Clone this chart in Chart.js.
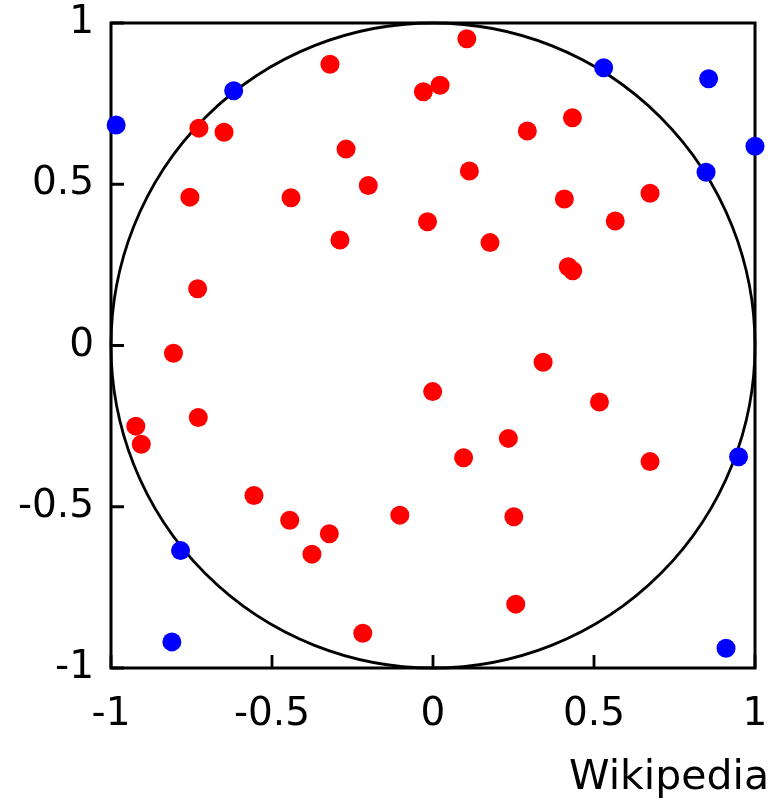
<!DOCTYPE html>
<html>
<head>
<meta charset="utf-8">
<script src="https://cdn.jsdelivr.net/npm/chart.js@4/dist/chart.umd.min.js"></script>
<style>
  html, body { margin: 0; padding: 0; background: #fff; }
  #wrap { width: 776px; height: 802px; }
</style>
</head>
<body>
<div id="wrap"><canvas id="c" width="776" height="802"></canvas></div>
<script>
// Monte Carlo estimate of pi: random points in the square [-1,1]^2,
// red when inside the unit circle, blue when outside.
const insideX = [-0.320, -0.030, 0.022, -0.727, -0.649, -0.270, -0.201, -0.755, -0.441, -0.017,
                 -0.289, -0.731, -0.806, 0.105, 0.433, 0.293, 0.113, 0.674, 0.408, 0.566,
                 0.177, 0.420, 0.434, 0.342, -0.001, -0.923, -0.906, -0.729, -0.556, -0.445,
                 -0.322, -0.376, -0.103, -0.218, 0.517, 0.234, 0.095, 0.674, 0.251, 0.257];
const insideY = [0.872, 0.787, 0.807, 0.674, 0.661, 0.609, 0.496, 0.460, 0.458, 0.384,
                 0.327, 0.176, -0.024, 0.951, 0.706, 0.665, 0.541, 0.472, 0.454, 0.386,
                 0.319, 0.244, 0.232, -0.052, -0.143, -0.250, -0.306, -0.223, -0.465, -0.542,
                 -0.584, -0.647, -0.526, -0.892, -0.175, -0.288, -0.348, -0.360, -0.531, -0.802];
const outsideX = [-0.984, -0.619, 0.530, 0.856, 1.000, 0.848, 0.949, 0.910, -0.784, -0.811];
const outsideY = [0.684, 0.790, 0.861, 0.827, 0.618, 0.537, -0.345, -0.939, -0.636, -0.919];

const tickValues = [-1, -0.5, 0, 0.5, 1];
const tickLabels = ['-1', '-0.5', '0', '0.5', '1'];
const circleRadius = 1;
const creditText = 'Wikipedia';

const toPoints = (xs, ys) => xs.map((x, i) => ({ x: x, y: ys[i] }));

const FONT = '"DejaVu Sans", sans-serif';

// Square frame, unit circle and inward tick marks, drawn under the points.
const framePlugin = {
  id: 'frame',
  beforeDatasetsDraw(chart) {
    const { ctx, chartArea: a, scales: { x, y } } = chart;
    ctx.save();
    ctx.strokeStyle = '#000';
    ctx.lineWidth = 2.8;
    // circle of radius 1 around the origin
    const cx = x.getPixelForValue(0), cy = y.getPixelForValue(0);
    const rx = x.getPixelForValue(circleRadius) - cx;
    const ry = cy - y.getPixelForValue(circleRadius);
    ctx.beginPath();
    ctx.ellipse(cx, cy, rx, ry, 0, 0, Math.PI * 2);
    ctx.stroke();
    // frame
    ctx.lineWidth = 3;
    ctx.strokeRect(a.left, a.top, a.right - a.left, a.bottom - a.top);
    // tick marks pointing into the plot
    ctx.lineWidth = 2.8;
    ctx.beginPath();
    tickValues.forEach(v => {
      const px = x.getPixelForValue(v);
      ctx.moveTo(px, a.bottom);
      ctx.lineTo(px, a.bottom - 13);
      const py = y.getPixelForValue(v);
      ctx.moveTo(a.left, py);
      ctx.lineTo(a.left + 13, py);
    });
    ctx.stroke();
    ctx.restore();
  },
  afterDraw(chart) {
    const { ctx } = chart;
    ctx.save();
    ctx.fillStyle = '#000';
    ctx.font = '41px ' + FONT;
    ctx.textAlign = 'right';
    ctx.textBaseline = 'alphabetic';
    ctx.fillText(creditText, chart.width - 7, 789);
    ctx.restore();
  }
};

const fixedTicks = scale => {
  scale.ticks = tickValues.map(v => ({ value: v }));
};

new Chart(document.getElementById('c'), {
  type: 'scatter',
  data: {
    datasets: [
      {
        label: 'inside',
        data: toPoints(insideX, insideY),
        backgroundColor: '#ff0000',
        borderWidth: 0,
        pointRadius: 9.5,
        clip: false
      },
      {
        label: 'outside',
        data: toPoints(outsideX, outsideY),
        backgroundColor: '#0000ff',
        borderWidth: 0,
        pointRadius: 9.5,
        clip: false
      }
    ]
  },
  options: {
    responsive: false,
    animation: false,
    devicePixelRatio: 1,
    layout: { padding: { top: 23, right: 21, bottom: 0, left: 0 } },
    plugins: {
      legend: { display: false },
      tooltip: { enabled: false }
    },
    scales: {
      x: {
        type: 'linear',
        min: -1, max: 1,
        afterBuildTicks: fixedTicks,
        afterFit: s => { s.height = 134; s.paddingLeft = 0; s.paddingRight = 0; },
        grid: { display: false, drawTicks: false },
        border: { display: false },
        ticks: {
          padding: 23,
          color: '#000',
          font: { family: FONT, size: 39 },
          maxRotation: 0,
          autoSkip: false,
          callback: (v) => tickLabels[tickValues.indexOf(v)]
        }
      },
      y: {
        type: 'linear',
        min: -1, max: 1,
        afterBuildTicks: fixedTicks,
        afterFit: s => { s.width = 111; s.paddingTop = 0; s.paddingBottom = 0; },
        grid: { display: false, drawTicks: false },
        border: { display: false },
        ticks: {
          padding: 17,
          color: '#000',
          font: { family: FONT, size: 39 },
          autoSkip: false,
          callback: (v) => tickLabels[tickValues.indexOf(v)]
        }
      }
    }
  },
  plugins: [framePlugin]
});
</script>
</body>
</html>
